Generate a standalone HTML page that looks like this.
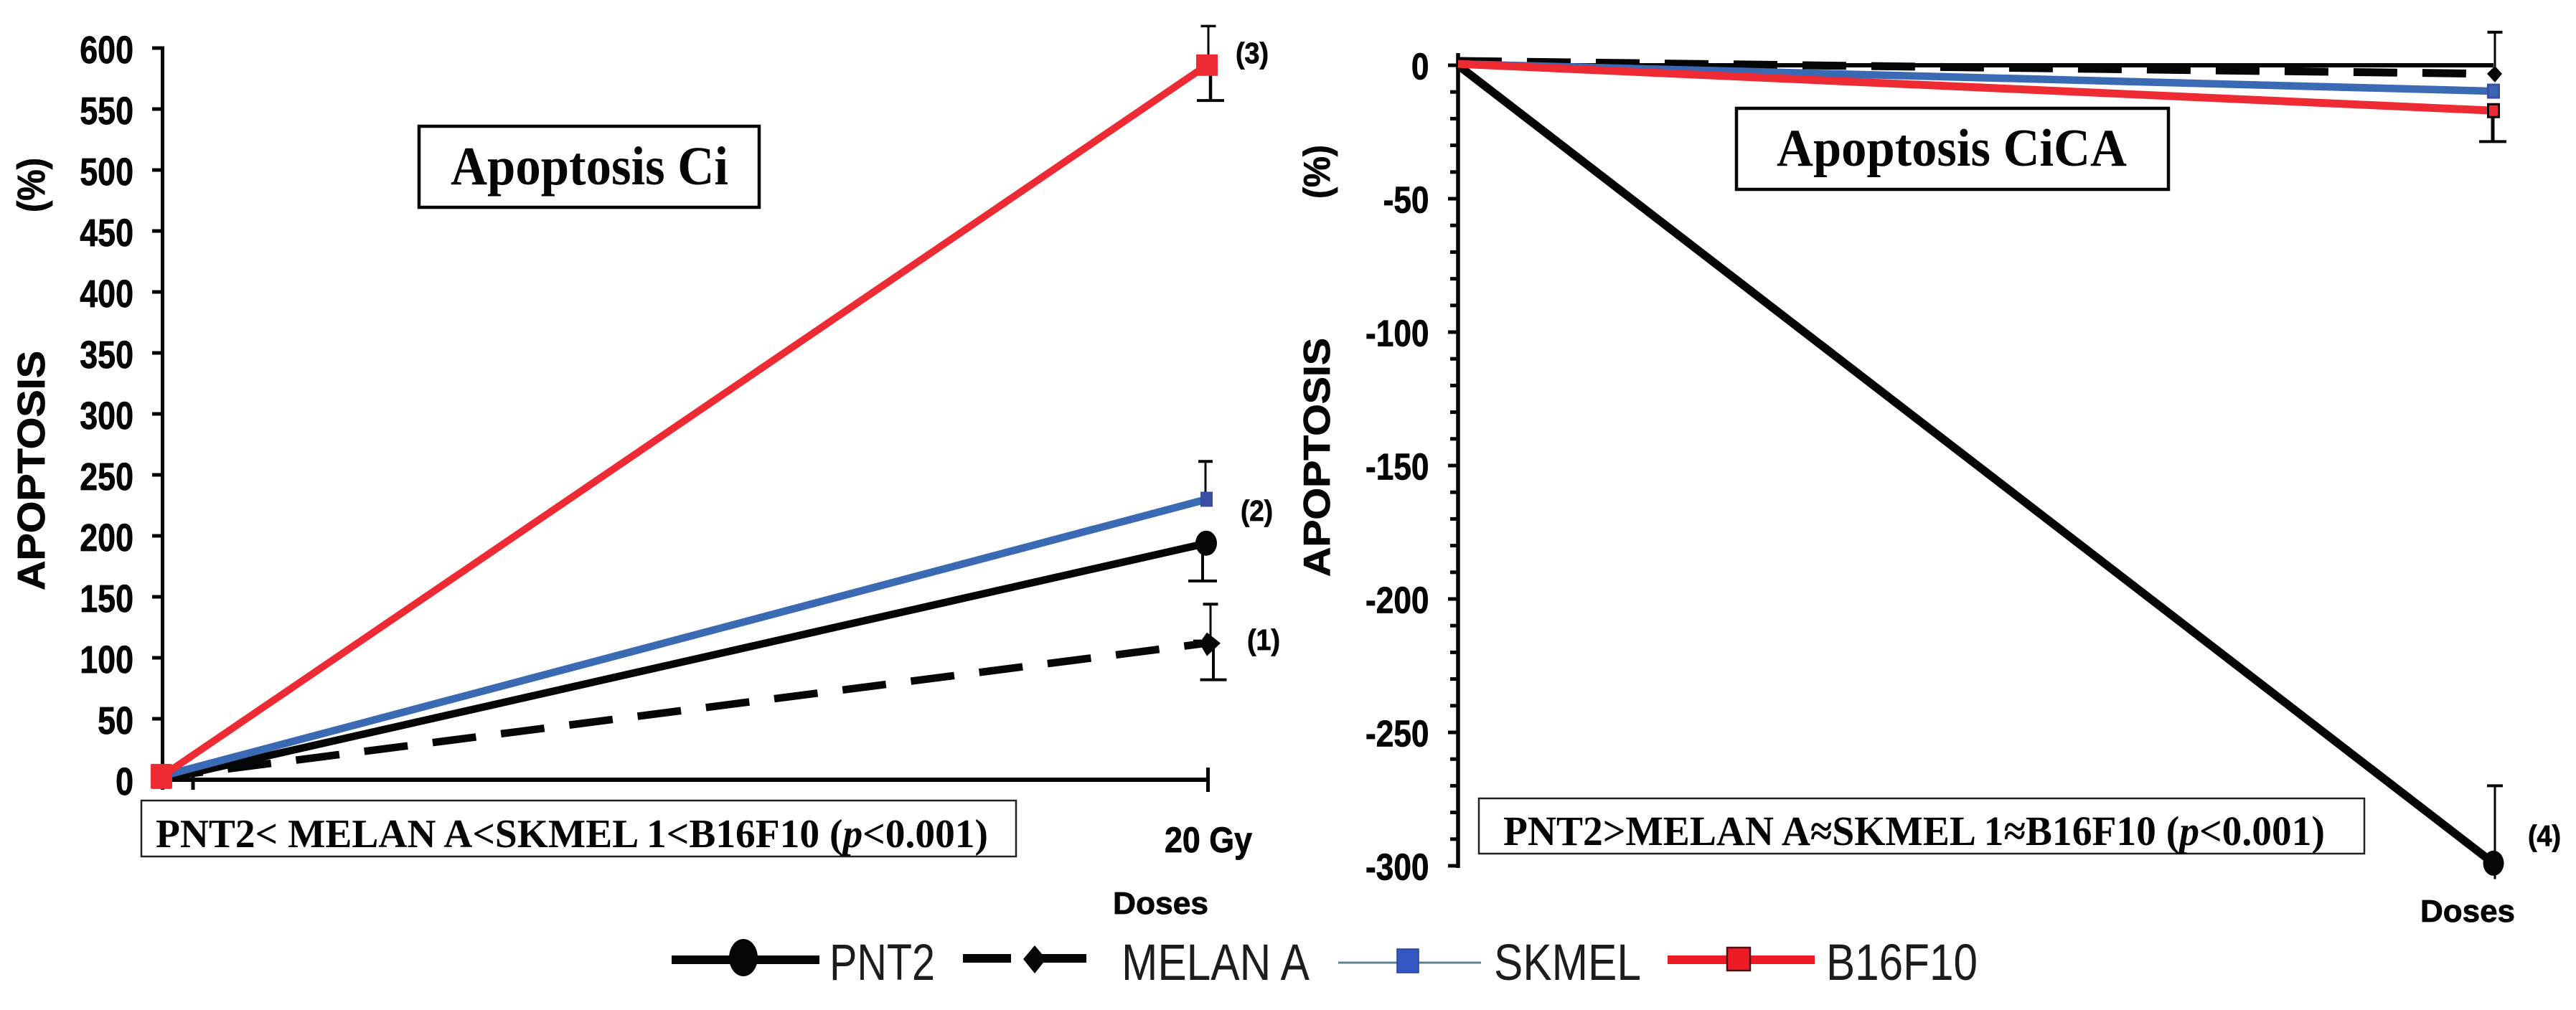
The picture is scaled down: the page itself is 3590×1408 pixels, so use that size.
<!DOCTYPE html>
<html lang="en">
<head>
<meta charset="utf-8">
<title>Apoptosis Ci and CiCA</title>
<style>
html,body{margin:0;padding:0;background:#fff;}
svg{display:block;}
.sans{font-family:"Liberation Sans",sans-serif;font-weight:700;fill:#050505;stroke:#050505;stroke-width:0.8;}
.serif{font-family:"Liberation Serif",serif;font-weight:700;fill:#050505;}
.leg{font-family:"Liberation Sans",sans-serif;font-weight:400;fill:#1c1c1c;font-size:71px;}
</style>
</head>
<body>
<svg id="figure" xmlns="http://www.w3.org/2000/svg" width="3590" height="1408" viewBox="0 0 3590 1408">
  <rect x="0" y="0" width="3590" height="1408" fill="#ffffff"/>
  <g id="left-panel"></g>
  <g id="right-panel"></g>

  <g>
    <text class="sans" font-size="54" transform="translate(62,823) rotate(-90)" textLength="334" lengthAdjust="spacingAndGlyphs">APOPTOSIS</text>
    <text class="sans" font-size="54" transform="translate(62,296) rotate(-90)" textLength="76" lengthAdjust="spacingAndGlyphs">(%)</text>
  </g>
  <g>
    <text class="sans" font-size="52" transform="translate(1853,804) rotate(-90)" textLength="333" lengthAdjust="spacingAndGlyphs">APOPTOSIS</text>
    <text class="sans" font-size="52" transform="translate(1853,277) rotate(-90)" textLength="75" lengthAdjust="spacingAndGlyphs">(%)</text>
  </g>

  <g>
    <rect x="584" y="176" width="474" height="113" fill="#fff" stroke="#050505" stroke-width="4.5"/>
    <text class="serif" x="628" y="257" font-size="76" textLength="387" lengthAdjust="spacingAndGlyphs">Apoptosis Ci</text>
  </g>
  <g>
    <rect x="2420" y="151" width="602" height="113" fill="#fff" stroke="#050505" stroke-width="4.5"/>
    <text class="serif" x="2476" y="231" font-size="74" textLength="488" lengthAdjust="spacingAndGlyphs">Apoptosis CiCA</text>
  </g>

  <g>
    <rect x="197" y="1116" width="1219" height="78" fill="#fff" stroke="#222" stroke-width="2.5"/>
    <text class="serif" x="217" y="1181" font-size="56" textLength="1160" lengthAdjust="spacingAndGlyphs">PNT2&lt; MELAN A&lt;SKMEL 1&lt;B16F10 (<tspan font-style="italic">p</tspan>&lt;0.001)</text>
  </g>
  <g>
    <rect x="2061" y="1113" width="1234" height="77" fill="#fff" stroke="#222" stroke-width="2.5"/>
    <text class="serif" x="2095" y="1178" font-size="58" textLength="1145" lengthAdjust="spacingAndGlyphs">PNT2&gt;MELAN A≈SKMEL 1≈B16F10 (<tspan font-style="italic">p</tspan>&lt;0.001)</text>
  </g>

  <text class="sans" x="1623" y="1188" font-size="50" textLength="122" lengthAdjust="spacingAndGlyphs">20 Gy</text>
  <text class="sans" x="1551" y="1274" font-size="44" textLength="133" lengthAdjust="spacingAndGlyphs">Doses</text>
  <text class="sans" x="3373" y="1285" font-size="44" textLength="132" lengthAdjust="spacingAndGlyphs">Doses</text>

  <text class="sans" x="1738" y="906" font-size="41" textLength="46" lengthAdjust="spacingAndGlyphs">(1)</text>
  <text class="sans" x="1729" y="726" font-size="41" textLength="45" lengthAdjust="spacingAndGlyphs">(2)</text>
  <text class="sans" x="1722" y="88" font-size="41" textLength="46" lengthAdjust="spacingAndGlyphs">(3)</text>
  <text class="sans" x="3523" y="1179" font-size="41" textLength="46" lengthAdjust="spacingAndGlyphs">(4)</text>

  <g>
    <g>
      <line x1="936" y1="1338" x2="1142" y2="1338" stroke="#050505" stroke-width="12"/>
      <ellipse cx="1036" cy="1335" rx="20" ry="26" fill="#050505"/>
      <text class="leg" x="1156" y="1366" textLength="147" lengthAdjust="spacingAndGlyphs">PNT2</text>
    </g>
    <g>
      <line x1="1342" y1="1336" x2="1409" y2="1336" stroke="#050505" stroke-width="12"/>
      <line x1="1447" y1="1336" x2="1514" y2="1336" stroke="#050505" stroke-width="12"/>
      <polygon points="1442,1318 1458,1337 1442,1357 1426,1337" fill="#050505"/>
      <text class="leg" x="1563" y="1366" textLength="262" lengthAdjust="spacingAndGlyphs">MELAN A</text>
    </g>
    <g>
      <line x1="1865" y1="1342" x2="2064" y2="1342" stroke="#5f7f8c" stroke-width="3"/>
      <rect x="1947" y="1323" width="30" height="33" fill="#3358c4" stroke="#2a3f8f" stroke-width="1.5"/>
      <text class="leg" x="2082" y="1366" textLength="205" lengthAdjust="spacingAndGlyphs">SKMEL</text>
    </g>
    <g>
      <line x1="2324" y1="1338" x2="2529" y2="1338" stroke="#ed1c24" stroke-width="12"/>
      <rect x="2407" y="1321" width="32" height="32" fill="#ed1c24" stroke="#4a1212" stroke-width="2.5"/>
      <text class="leg" x="2545" y="1366" textLength="211" lengthAdjust="spacingAndGlyphs">B16F10</text>
    </g>
  </g>
</svg>

<script>
// ---- Chart data (percent apoptosis) ----
const doseSteps = [0, 1];

const leftTickLabels = [0, 50, 100, 150, 200, 250, 300, 350, 400, 450, 500, 550, 600];
const leftPnt2 = [0, 194];
const leftMelan = [2, 112];
const leftSkmel = [3, 230];
const leftB16 = [3, 586];
const leftPnt2ErrDown = [31];
const leftMelanErrUp = [32];
const leftMelanErrDown = [30];
const leftSkmelErrUp = [31];
const leftB16ErrUp = [32];
const leftB16ErrDown = [29];

const rightTickLabels = [0, -50, -100, -150, -200, -250, -300];
const rightMinorTicks = [-10, -20, -30, -40, -60, -70, -80, -90, -110, -120, -130, -140, -160, -170, -180, -190, -210, -220, -230, -240, -260, -270, -280, -290];
const rightPnt2 = [0, -299];
const rightMelan = [1.6, -3.2];
const rightSkmel = [0.5, -9.7];
const rightB16 = [0.5, -17];
const rightPnt2ErrUp = [29];
const rightPnt2ErrDown = [6];
const rightMelanErrUp = [15.6];
const rightB16ErrDown = [11.6];

// ---- Axis functions ----
const leftX = function (step) { return 226 + step * 1456; };
const leftY = function (value) { return 1087 - value * 1.7; };
const rightX = function (step) { return 2032 + step * 1443; };
const rightY = function (value) { return 91 - value * 3.72; };

const NS = 'http://www.w3.org/2000/svg';
const BLACK = '#040606', BLUE = '#3b6ab5', RED = '#ee2a33';

function make(parent, tag, props) {
  const el = document.createElementNS(NS, tag);
  for (const key in props) el.setAttribute(key, props[key]);
  parent.appendChild(el);
  return el;
}

function drawLine(parent, x1, y1, x2, y2, color, width, dash, offset) {
  const el = make(parent, 'line', { x1: x1, y1: y1, x2: x2, y2: y2, stroke: color, 'stroke-width': width });
  if (dash) {
    el.setAttribute('stroke-dasharray', dash);
    el.setAttribute('stroke-dashoffset', offset);
  }
  return el;
}

function drawSeries(parent, xFn, yFn, values, color, width, name, dash, offset) {
  const el = drawLine(parent, xFn(doseSteps[0]), yFn(values[0]), xFn(doseSteps[1]), yFn(values[1]), color, width, dash, offset);
  
  
  return el;
}

// A stem + optional cap going from the value by +/- err, at horizontal position cx.
function drawErr(parent, cx, yFn, value, err, dir, stemW, capW, capH, name) {
  const y0 = yFn(value);
  const y1 = yFn(value + dir * err);
  const stem = drawLine(parent, cx, y0, cx, y1, BLACK, stemW);
  
  
  if (capW > 0) {
    const cap = drawLine(parent, cx - capW / 2, y1, cx + capW / 2, y1, BLACK, capH);
    
    
  }
}

function drawTickLabel(parent, x, y, label, size, sx, name) {
  const t = make(parent, 'text', { 'class': 'sans', 'font-size': size, 'text-anchor': 'end', transform: 'translate(' + x + ',' + y + ') scale(' + sx + ',1)' });
  t.textContent = String(label);
  
  
}

// ---- Left panel ----
const L = document.getElementById('left-panel');

const lYAxis = drawLine(L, 226.5, leftY(600) - 2.5, 226.5, 1101, BLACK, 5);


const lXAxis = drawLine(L, 226, leftY(0), leftX(doseSteps[1]) + 2, leftY(0), BLACK, 6);


const lXStart = drawLine(L, 269, 1072, 269, 1101, BLACK, 5);


const lXEnd = drawLine(L, leftX(doseSteps[1]) + 1.5, 1070, leftX(doseSteps[1]) + 1.5, 1104, BLACK, 5);



leftTickLabels.forEach(function (v) {
  const tick = drawLine(L, 212, leftY(v), 226, leftY(v), BLACK, 5);
  
  
  drawTickLabel(L, 186, leftY(v) + 21, v, 54, 0.83, 'left-y-tick-label-' + v);
});

const lx1 = leftX(doseSteps[1]);
drawErr(L, lx1 + 5, leftY, leftMelan[1], leftMelanErrUp[0], 1, 3, 21, 4, 'left-melan-error-up');
drawErr(L, lx1 + 9, leftY, leftMelan[1], leftMelanErrDown[0], -1, 4, 37, 4, 'left-melan-error-down');
drawErr(L, lx1 - 6, leftY, leftPnt2[1], leftPnt2ErrDown[0], -1, 4, 40, 4, 'left-pnt2-error-down');
drawErr(L, lx1 - 2, leftY, leftSkmel[1], leftSkmelErrUp[0], 1, 3, 20, 4, 'left-skmel-error-up');
drawErr(L, lx1 + 2, leftY, leftB16[1], leftB16ErrUp[0], 1, 3, 21, 3.5, 'left-b16f10-error-up');
drawErr(L, lx1 + 5, leftY, leftB16[1], leftB16ErrDown[0], -1, 4.5, 38, 4, 'left-b16f10-error-down');

drawSeries(L, leftX, leftY, leftMelan, BLACK, 10.5, 'left-series-melan-a', '61 35', 4);
drawSeries(L, leftX, leftY, leftPnt2, BLACK, 10.5, 'left-series-pnt2');
drawSeries(L, leftX, leftY, leftSkmel, BLUE, 10.5, 'left-series-skmel');
drawSeries(L, leftX, leftY, leftB16, RED, 10, 'left-series-b16f10');

const lm1 = make(L, 'polygon', { fill: BLACK, points: (lx1 - 19) + ',' + (leftY(leftMelan[1]) - 5) + ' ' + (lx1 - 7) + ',' + (leftY(leftMelan[1]) - 5) + ' ' + lx1 + ',' + (leftY(leftMelan[1]) - 15) + ' ' + (lx1 + 19) + ',' + leftY(leftMelan[1]) + ' ' + lx1 + ',' + (leftY(leftMelan[1]) + 18) + ' ' + (lx1 - 7) + ',' + (leftY(leftMelan[1]) + 6) + ' ' + (lx1 - 19) + ',' + (leftY(leftMelan[1]) + 6) });


const lm2 = make(L, 'ellipse', { cx: lx1 - 1, cy: leftY(leftPnt2[1]), rx: 15, ry: 17.5, fill: BLACK });


const lm3 = make(L, 'rect', { x: lx1 - 9, y: leftY(leftSkmel[1]) - 10.5, width: 17, height: 21, fill: '#3a4ea8' });


const lm4 = make(L, 'rect', { x: lx1 - 15, y: leftY(leftB16[1]) - 15, width: 30, height: 30, fill: RED });


const lm5 = make(L, 'rect', { x: leftX(doseSteps[0]) - 16, y: leftY(leftB16[0]) - 17, width: 30, height: 35, rx: 2, fill: RED });



// ---- Right panel ----
const R = document.getElementById('right-panel');

const rYAxis = drawLine(R, 2032, 74, 2032, rightY(-300) + 3, BLACK, 5.5);


const rXAxis = drawLine(R, 2032, rightY(0), rightX(doseSteps[1]), rightY(0), BLACK, 6);



rightMinorTicks.forEach(function (v) {
  const tick = drawLine(R, 2021, rightY(v), 2032, rightY(v), BLACK, 5);
  
  
});
rightTickLabels.forEach(function (v) {
  const tick = drawLine(R, 2018, rightY(v), 2032, rightY(v), BLACK, 5);
  
  
  drawTickLabel(R, 1991.5, rightY(v) + 19.5, v, 52, 0.85, 'right-y-tick-label-' + v);
});

const rx1 = rightX(doseSteps[1]);
drawErr(R, rx1 + 2, rightY, rightPnt2[1], rightPnt2ErrUp[0], 1, 3, 22, 4, 'right-pnt2-error-up');
drawErr(R, rx1 + 2, rightY, rightPnt2[1], rightPnt2ErrDown[0], -1, 3, 0, 0, 'right-pnt2-error-down');
drawErr(R, rx1 + 2, rightY, rightMelan[1], rightMelanErrUp[0], 1, 3, 21, 4, 'right-melan-error-up');
drawErr(R, rx1 - 1, rightY, rightB16[1], rightB16ErrDown[0], -1, 5, 38, 4, 'right-b16f10-error-down');

drawSeries(R, rightX, rightY, rightMelan, BLACK, 11, 'right-series-melan-a', '61 35', 0);
drawSeries(R, rightX, rightY, rightPnt2, BLACK, 11.5, 'right-series-pnt2');
drawSeries(R, rightX, rightY, rightSkmel, BLUE, 10.5, 'right-series-skmel');
drawSeries(R, rightX, rightY, rightB16, RED, 11, 'right-series-b16f10');

const rm1 = make(R, 'polygon', { fill: BLACK, points: (rx1 + 2) + ',' + (rightY(rightMelan[1]) - 11) + ' ' + (rx1 + 12) + ',' + rightY(rightMelan[1]) + ' ' + (rx1 + 2) + ',' + (rightY(rightMelan[1]) + 12) + ' ' + (rx1 - 9) + ',' + rightY(rightMelan[1]) });


const rm2 = make(R, 'rect', { x: rx1 - 7.5, y: rightY(rightSkmel[1]) - 9, width: 15, height: 18, fill: '#3a66b4', stroke: '#3a4ea8', 'stroke-width': 3 });


const rm3 = make(R, 'rect', { x: rx1 - 7.5, y: rightY(rightB16[1]) - 9, width: 15, height: 18, fill: RED, stroke: BLACK, 'stroke-width': 3 });


const rm4 = make(R, 'ellipse', { cx: rx1, cy: rightY(rightPnt2[1]), rx: 14.5, ry: 17.5, fill: BLACK });


</script>
</body>
</html>
